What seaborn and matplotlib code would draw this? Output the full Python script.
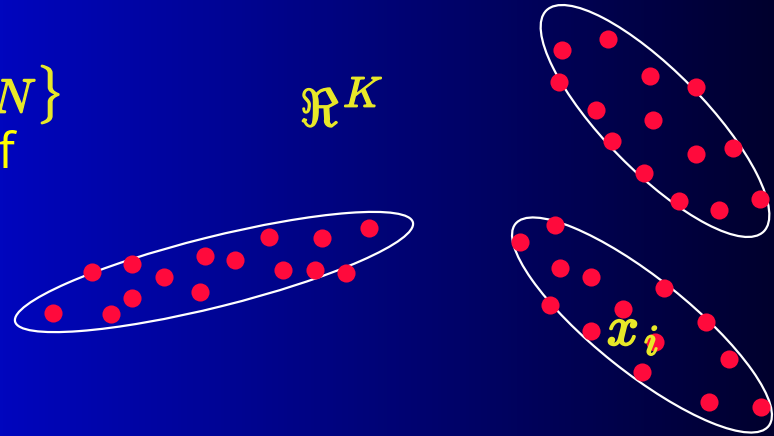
import numpy as np
import pandas as pd
import matplotlib
matplotlib.use('Agg')
import matplotlib.pyplot as plt
import matplotlib.patheffects as pe
from matplotlib.patches import Ellipse
import seaborn as sns

# points of the three clusters (pixel coords, y downwards)
band_x = [53, 92, 132, 132, 111, 164, 200, 205, 235, 269, 283, 315, 322, 346, 369]
band_y = [313, 272, 264, 298, 314, 277, 292, 256, 260, 237, 270, 270, 238, 273, 228]

upper_x = [562, 608, 559, 650, 696, 596, 653, 612, 733, 696, 644, 679, 719, 760]
upper_y = [50, 39, 82, 76, 87, 110, 120, 141, 148, 154, 173, 201, 210, 199]

lower_x = [555, 520, 560, 591, 664, 550, 623, 591, 706, 655, 729, 642, 709, 761]
lower_y = [225, 242, 268, 277, 288, 305, 309, 331, 322, 342, 359, 372, 402, 407]

df = pd.DataFrame({
    'x': band_x + upper_x + lower_x,
    'y': band_y + upper_y + lower_y,
    'cluster': ['band'] * len(band_x) + ['upper'] * len(upper_x) + ['lower'] * len(lower_x),
})

W, H = 774, 436
plt.rcParams['mathtext.fontset'] = 'cm'
fig = plt.figure(figsize=(W / 100, H / 100), dpi=100)
ax = fig.add_axes([0, 0, 1, 1])

# blue -> near black horizontal gradient
t = np.linspace(0, 1, 256)
left = np.array([0, 6, 190]) / 255
right = np.array([0, 0, 45]) / 255
grad = (left[None, :] * (1 - t)[:, None] + right[None, :] * t[:, None])[None, :, :]
ax.imshow(grad, extent=[0, W, H, 0], aspect='auto', zorder=0)

# cluster outlines: centre, width, height, angle
outlines = [((214, 272), 410, 70, -14),
            ((655, 121), 310, 100, 45.5),
            ((642, 325), 324, 94, 38.6)]
for c, w, h, a in outlines:
    ax.add_patch(Ellipse(c, w, h, angle=a, fill=False, ec='white', lw=1.6, zorder=2))

sns.scatterplot(data=df, x='x', y='y', color='#ff0a3c', s=170, linewidth=0,
                legend=False, ax=ax, zorder=3)
ax.set_xlim(0, W)
ax.set_ylim(H, 0)
ax.axis('off')

yel = '#e8e828'
bold = [pe.withStroke(linewidth=1.0, foreground=yel)]
ax.text(37, 113, r'$1,\ldots,N$', ha='right', va='baseline', fontsize=35, color=yel,
        path_effects=bold, zorder=4)
ax.text(36, 113, r'$\}$', ha='left', va='baseline', fontsize=35, color=yel,
        path_effects=bold, zorder=4)
ax.text(-3, 168, 'f', ha='left', va='baseline', fontsize=36, color='#ffff00',
        family=['Open Sans', 'DejaVu Sans'], zorder=4)
ax.text(300, 126, r'$\Re$', ha='left', va='baseline', fontsize=38, color=yel,
        path_effects=bold, zorder=4)
ax.text(343, 107, r'$K$', ha='left', va='baseline', fontsize=31, color=yel,
        path_effects=bold, zorder=4)
ax.text(607, 345, r'$x$', ha='left', va='baseline', fontsize=40, color=yel,
        path_effects=[pe.withStroke(linewidth=1.6, foreground=yel)], zorder=4)
ax.text(644, 355, r'$i$', ha='left', va='baseline', fontsize=31, color=yel,
        path_effects=[pe.withStroke(linewidth=1.3, foreground=yel)], zorder=4)

fig.savefig('out.png', dpi=100)
